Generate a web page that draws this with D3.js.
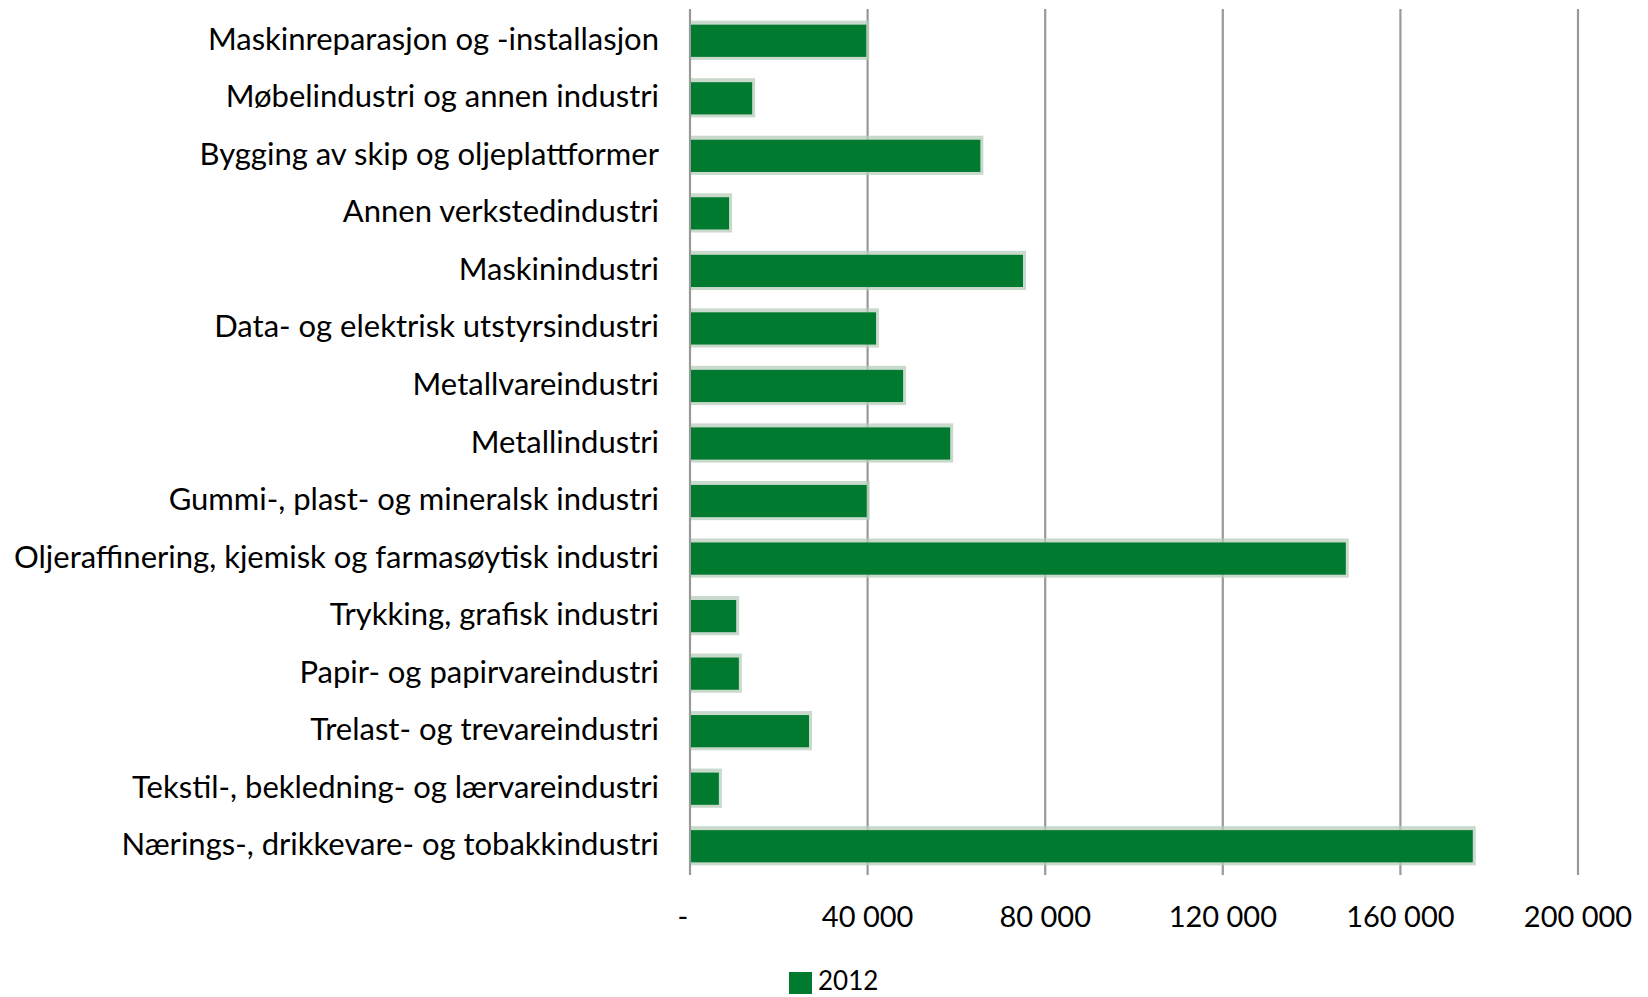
<!DOCTYPE html>
<html>
<head>
<meta charset="utf-8">
<script src="https://cdn.jsdelivr.net/npm/d3@7"></script>
<style>
  body { margin: 0; background: #fff; }
  svg { display: block; }
</style>
</head>
<body>
<div id="chart"></div>
<script>
// categories top to bottom, as in the picture
const categories = [
    "Maskinreparasjon og -installasjon",
    "Møbelindustri og annen industri",
    "Bygging av skip og oljeplattformer",
    "Annen verkstedindustri",
    "Maskinindustri",
    "Data- og elektrisk utstyrsindustri",
    "Metallvareindustri",
    "Metallindustri",
    "Gummi-, plast- og mineralsk industri",
    "Oljeraffinering, kjemisk og farmasøytisk industri",
    "Trykking, grafisk industri",
    "Papir- og papirvareindustri",
    "Trelast- og trevareindustri",
    "Tekstil-, bekledning- og lærvareindustri",
    "Nærings-, drikkevare- og tobakkindustri"
];
const values2012 = [39700, 14000, 65400, 8800, 75000, 41900, 48000, 58600, 39800, 147700, 10400, 11000, 26800, 6500, 176300];
const tickValues = [0, 40000, 80000, 120000, 160000, 200000];
const tickLabels = ["-", "40 000", "80 000", "120 000", "160 000", "200 000"];
const seriesName = "2012";

const W = 1648, H = 997;
const plot = { left: 690, right: 1578, top: 12, bottom: 875 };
const green = "#007a2f";
const font = "Lato, 'Noto Sans', sans-serif";

const svg = d3.select("#chart")
    .append("svg")
    .attr("width", W)
    .attr("height", H);

const x = d3.scaleLinear()
    .domain([0, 200000])
    .range([plot.left, plot.right]);

const y = d3.scaleBand()
    .domain(categories)
    .range([plot.top, plot.bottom])
    .paddingInner(0.44)
    .paddingOuter(0.22);

// vertical gridlines (incl. the zero line)
svg.append("g")
    .selectAll("line")
    .data(tickValues)
    .join("line")
    .attr("x1", d => x(d))
    .attr("x2", d => x(d))
    .attr("y1", 9)
    .attr("y2", plot.bottom)
    .attr("stroke", "#999999")
    .attr("stroke-width", 2.2);

// soft shadow behind the bars
svg.append("g")
    .selectAll("rect")
    .data(values2012)
    .join("rect")
    .attr("x", x(0) + 1)
    .attr("y", (d, i) => y(categories[i]) - 4)
    .attr("width", d => x(d) - x(0) + 2)
    .attr("height", y.bandwidth() + 7)
    .attr("fill", "#b7cdbb")
    .attr("opacity", 0.75);

// bars
svg.append("g")
    .selectAll("rect")
    .data(values2012)
    .join("rect")
    .attr("x", x(0) + 1)
    .attr("y", (d, i) => y(categories[i]))
    .attr("width", d => x(d) - x(0) - 1)
    .attr("height", y.bandwidth())
    .attr("fill", green);

// category labels
svg.append("g")
    .selectAll("text")
    .data(categories)
    .join("text")
    .attr("x", 659)
    .attr("y", d => y(d) + y.bandwidth() / 2 + 9)
    .attr("text-anchor", "end")
    .attr("font-family", font)
    .attr("font-size", 31)
    .attr("fill", "#000")
    .text(d => d);

// value axis labels
svg.append("g")
    .selectAll("text")
    .data(tickValues)
    .join("text")
    .attr("x", (d, i) => i === 0 ? x(d) - 7 : x(d))
    .attr("y", 927)
    .attr("text-anchor", "middle")
    .attr("font-family", font)
    .attr("font-size", 29)
    .attr("fill", "#000")
    .text((d, i) => tickLabels[i]);

// legend (sits at the very bottom edge)
const legend = svg.append("g");
legend.append("rect")
    .attr("x", 789)
    .attr("y", 972)
    .attr("width", 23)
    .attr("height", 22)
    .attr("fill", green);
legend.append("text")
    .attr("x", 818)
    .attr("y", 990)
    .attr("font-family", font)
    .attr("font-size", 26)
    .attr("fill", "#000")
    .text(seriesName);
</script>
</body>
</html>
